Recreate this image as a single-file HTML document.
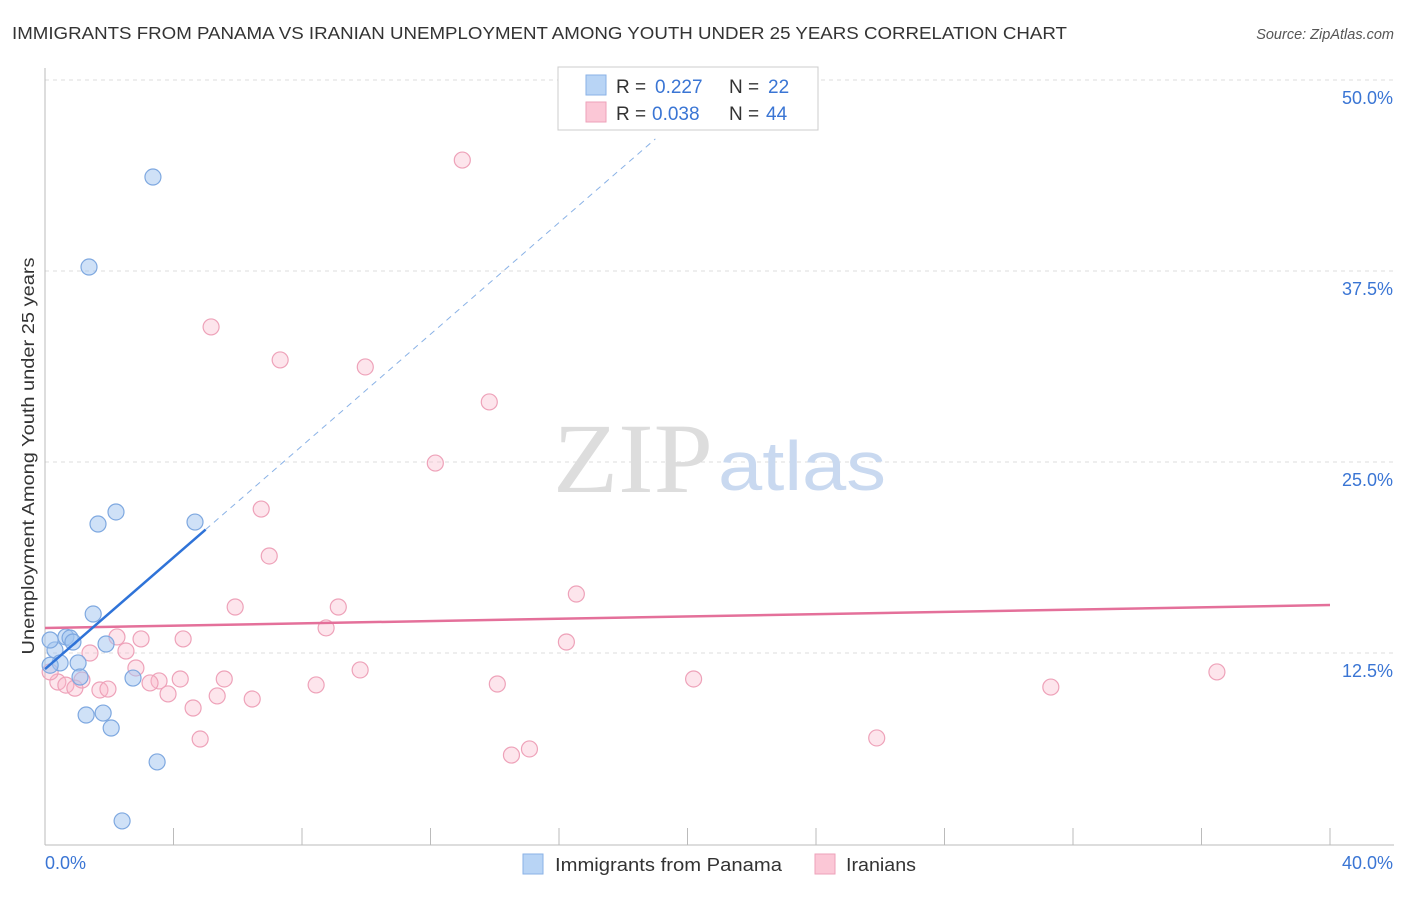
<!DOCTYPE html>
<html><head><meta charset="utf-8"><style>
body{margin:0;background:#fff;font-family:"Liberation Sans",sans-serif;}
</style></head><body>
<svg width="1406" height="892" font-family="Liberation Sans, sans-serif">
<text x="12" y="39" font-size="17.5" fill="#333" textLength="1055" lengthAdjust="spacingAndGlyphs">IMMIGRANTS FROM PANAMA VS IRANIAN UNEMPLOYMENT AMONG YOUTH UNDER 25 YEARS CORRELATION CHART</text>
<text x="1394" y="39" font-size="14.5" fill="#555" text-anchor="end" font-style="italic">Source: ZipAtlas.com</text>
<g id="grid"></g>
<text x="553" y="492" font-size="100" fill="#ddd" style="font-family:'Liberation Serif',serif" textLength="160" lengthAdjust="spacingAndGlyphs">ZIP</text>
<text x="718" y="490" font-size="70" fill="#c9d9f0" textLength="168" lengthAdjust="spacingAndGlyphs">atlas</text>
<text x="34" y="456" font-size="17.5" fill="#333" text-anchor="middle" textLength="397" lengthAdjust="spacingAndGlyphs" transform="rotate(-90 34 456)">Unemployment Among Youth under 25 years</text>
<g id="marks"></g>
<g>
<rect x="558" y="67" width="260" height="63" fill="#fff" stroke="#ccc"/>
<rect x="586" y="75" width="20" height="20" fill="#b8d4f5" stroke="#8ab2e6"/>
<rect x="586" y="102" width="20" height="20" fill="#fbc7d6" stroke="#eea2b9"/>
<text x="616" y="93" font-size="19" fill="#333">R =</text>
<text x="655" y="93" font-size="19" fill="#3a75d4">0.227</text>
<text x="729" y="93" font-size="19" fill="#333">N =</text>
<text x="768" y="93" font-size="19" fill="#3a75d4">22</text>
<text x="616" y="120" font-size="19" fill="#333">R =</text>
<text x="652" y="120" font-size="19" fill="#3a75d4">0.038</text>
<text x="729" y="120" font-size="19" fill="#333">N =</text>
<text x="766" y="120" font-size="19" fill="#3a75d4">44</text>
</g>
<g>
<rect x="523" y="854" width="20" height="20" fill="#b8d4f5" stroke="#8ab2e6"/>
<text x="555" y="871" font-size="18" fill="#333" textLength="227" lengthAdjust="spacingAndGlyphs">Immigrants from Panama</text>
<rect x="815" y="854" width="20" height="20" fill="#fbc7d6" stroke="#eea2b9"/>
<text x="846" y="871" font-size="18" fill="#333" textLength="70" lengthAdjust="spacingAndGlyphs">Iranians</text>
</g>
</svg>
<script>
const yTicks=[12.5,25,37.5,50];
const yTickLabels=["12.5%","25.0%","37.5%","50.0%"];
const xTicks=[0,4,8,12,16,20,24,28,32,36,40];
const blueX=[3.36,1.37,2.21,1.65,4.67,1.50,0.65,0.78,0.87,1.90,0.31,0.47,1.03,1.09,2.74,1.28,1.81,2.06,3.49,2.40,0.16,0.16];
const blueY=[43.65,37.76,21.73,20.94,21.07,15.05,13.55,13.48,13.22,13.09,12.7,11.85,11.85,10.93,10.86,8.44,8.57,7.59,5.37,1.51,13.35,11.7];
const pinkX=[12.99,5.17,7.32,9.97,13.83,12.15,6.73,6.98,16.54,5.92,9.13,8.75,2.24,2.99,4.30,16.23,1.40,2.52,2.83,9.81,36.48,4.21,5.58,20.19,3.55,3.27,8.44,14.08,31.31,0.40,0.65,0.93,1.71,1.96,3.83,5.36,6.45,4.61,4.83,25.89,15.08,14.52,0.16,1.15];
const pinkY=[44.76,33.84,31.68,31.22,28.93,24.93,21.92,18.85,16.36,15.51,15.51,14.14,13.55,13.42,13.42,13.22,12.5,12.63,11.52,11.39,11.26,10.8,10.8,10.8,10.67,10.54,10.41,10.47,10.27,10.6,10.4,10.2,10.08,10.14,9.82,9.69,9.49,8.9,6.87,6.94,6.22,5.82,11.26,10.73];
const blueTrend=[11.45,1.826];
const pinkTrend=[14.14,0.0375];
const X=v=>45+v*32.125, Y=v=>844-v*15.28;
const NS="http://www.w3.org/2000/svg";
function mk(t,a,p){const e=document.createElementNS(NS,t);for(const k in a)e.setAttribute(k,a[k]);p.appendChild(e);return e;}
const g=document.getElementById('grid'),m=document.getElementById('marks');
yTicks.forEach((t,i)=>{
 const l=mk('line',{x1:45,x2:1394,y1:Y(t),y2:Y(t),stroke:'#ddd','stroke-dasharray':'4,4'},g);
 
 
 const tx=mk('text',{x:1393,y:Y(t)+24,'font-size':18,fill:'#3a75d4','text-anchor':'end'},g);
 tx.textContent=yTickLabels[i];
 
 
});
let ax=mk('line',{x1:45,x2:45,y1:68,y2:845,stroke:'#bbb'},g);


ax=mk('line',{x1:45,x2:1394,y1:845,y2:845,stroke:'#bbb'},g);


xTicks.forEach(t=>{
 const l=mk('line',{x1:X(t),x2:X(t),y1:828,y2:845,stroke:'#bbb'},g);
 
 
});
let t0=mk('text',{x:45,y:869,'font-size':18,fill:'#3a75d4'},g);t0.textContent='0.0%';


t0=mk('text',{x:1393,y:869,'font-size':18,fill:'#3a75d4','text-anchor':'end'},g);t0.textContent='40.0%';


pinkX.forEach((x,i)=>{
 const c=mk('circle',{cx:X(x),cy:Y(pinkY[i]),r:8,fill:'rgba(248,180,200,0.35)',stroke:'#eea2b9','stroke-width':1.2},m);
 
 
});
blueX.forEach((x,i)=>{
 const c=mk('circle',{cx:X(x),cy:Y(blueY[i]),r:8,fill:'rgba(160,195,240,0.5)',stroke:'#7ea8e0','stroke-width':1.2},m);
 
 
});
let tl=mk('line',{x1:X(0),y1:Y(pinkTrend[0]),x2:X(40),y2:Y(pinkTrend[0]+40*pinkTrend[1]),stroke:'#e4709a','stroke-width':2.5},m);


tl=mk('line',{x1:X(0),y1:Y(blueTrend[0]),x2:X(5),y2:Y(blueTrend[0]+5*blueTrend[1]),stroke:'#2f73d8','stroke-width':2.5},m);


tl=mk('line',{x1:X(5),y1:Y(blueTrend[0]+5*blueTrend[1]),x2:X(19),y2:Y(blueTrend[0]+19*blueTrend[1]),stroke:'#8ab2e6','stroke-width':1,'stroke-dasharray':'6,5'},m);


</script>
</body></html>
